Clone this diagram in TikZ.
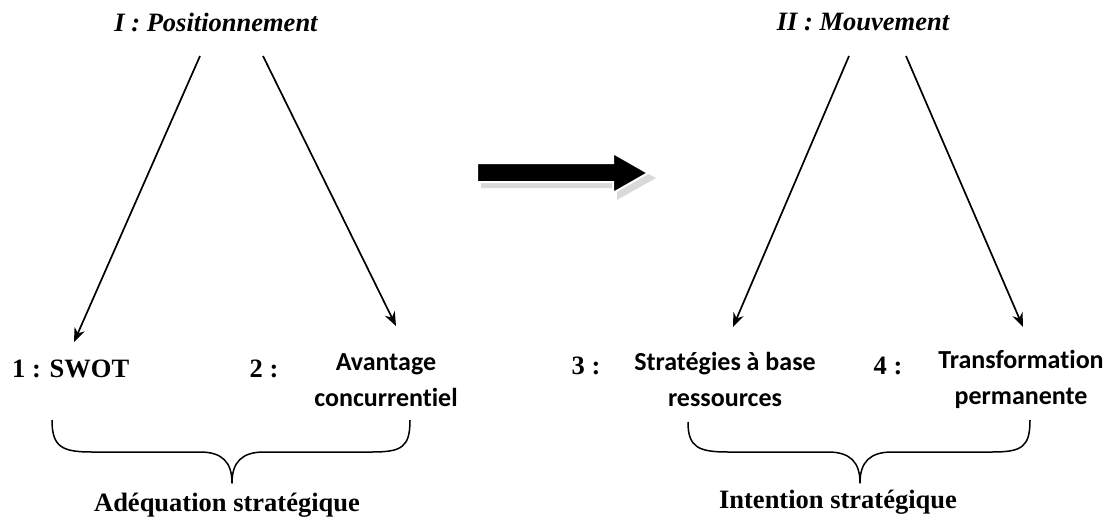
\documentclass[tikz,border=0pt]{standalone}
\usepackage{fontspec}
\setmainfont{Liberation Serif}
\newfontfamily\labelsans[Ligatures={NoCommon}]{Carlito}
\usetikzlibrary{arrows.meta}
\begin{document}
\begin{tikzpicture}[x=1pt,y=-1pt,
  titletext/.style={font=\fontsize{26.5}{30}\selectfont\bfseries\itshape, inner sep=0},
  numtext/.style={font=\fontsize{26.5}{30}\selectfont\bfseries, inner sep=0},
  sanstext/.style={font=\fontsize{26}{36}\selectfont\labelsans\bfseries, align=center, inner sep=0},
  captext/.style={font=\fontsize{26.5}{30}\selectfont\bfseries, inner sep=0},
  link/.style={line width=1.7pt, -{Stealth[length=14pt,width=11pt]}},
  brace/.style={line width=1.5pt, line join=round}]
\useasboundingbox (0,0) rectangle (1113,522);

% headings
\node[titletext] (pos) at (216,22) {I : Positionnement};
\node[titletext] (mov) at (863,22) {II : Mouvement};

% arrow ends
\coordinate (p1) at (200,56);
\coordinate (p2) at (263,56);
\coordinate (m1) at (849,56);
\coordinate (m2) at (906,56);
\coordinate (e1) at (74,342);
\coordinate (e2) at (396,326);
\coordinate (e3) at (733,327);
\coordinate (e4) at (1023,327);

\draw[link] (p1) -- (e1);
\draw[link] (p2) -- (e2);
\draw[link] (m1) -- (e3);
\draw[link] (m2) -- (e4);

% labels of the four approaches
\node[numtext, anchor=west] (swot) at (12,369) {1 : SWOT};
\node[numtext] (n2) at (264,369) {2 :};
\node[sanstext] (avantage) at (386,380) {Avantage\\concurrentiel};
\node[numtext] (n3) at (586,366) {3 :};
\node[sanstext] (strat) at (725,379) {Stratégies à base\\ressources};
\node[numtext] (n4) at (888,366) {4 :};
\node[sanstext] (transf) at (1021,379) {Transformation\\permanente};

% braces
\draw[brace] (52,420) .. controls (52,447) and (62,452) .. (92,452)
  -- (200,452) .. controls (222,452) and (232,462) .. (232,483)
  .. controls (232,462) and (242,452) .. (264,452)
  -- (372,452) .. controls (402,452) and (410,447) .. (410,420);
\draw[brace] (688,422) .. controls (688,447) and (698,452) .. (728,452)
  -- (828,452) .. controls (850,452) and (860,462) .. (860,483)
  .. controls (860,462) and (870,452) .. (892,452)
  -- (992,452) .. controls (1022,452) and (1030,447) .. (1030,420);

\node[captext] (adeq) at (227,505) {Adéquation stratégique};
\node[captext] (inten) at (838,502) {Intention stratégique};

% transition arrow with its soft shadow
\fill[gray!30] (481,168) -- (617,168) -- (617,158) -- (656,178) -- (617,200) -- (617,188) -- (481,188) -- cycle;
\fill[black, draw=white, line width=2pt] (477,163) -- (613,163) -- (613,153) -- (648,173) -- (613,193) -- (613,182) -- (477,182) -- cycle;
\end{tikzpicture}
\end{document}
